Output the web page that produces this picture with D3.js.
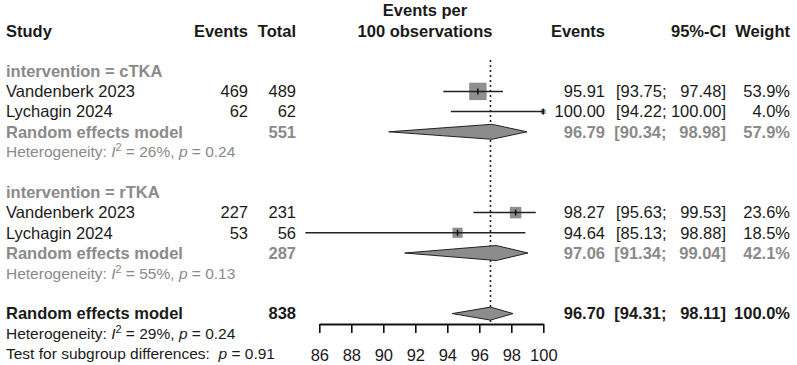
<!DOCTYPE html>
<html>
<head>
<meta charset="utf-8">
<script src="https://cdn.jsdelivr.net/npm/d3@7"></script>
<style>
  body { margin: 0; background: #fff; }
  svg { display: block; font-family: "Liberation Sans", Arial, sans-serif; }
</style>
</head>
<body>
<div id="chart"></div>
<script>
// Study-level data
const studyNames = ['Vandenberk 2023', 'Lychagin 2024', 'Vandenberk 2023', 'Lychagin 2024'];
const studyGroup = ['cTKA', 'cTKA', 'rTKA', 'rTKA'];
const studyEvents = [469, 62, 227, 53];
const studyTotal = [489, 62, 231, 56];
const studyEst = [95.91, 100.00, 98.27, 94.64];
const studyLower = [93.75, 94.22, 95.63, 85.13];
const studyUpper = [97.48, 100.00, 99.53, 98.88];
const studyWeight = [53.9, 4.0, 23.6, 18.5];

// Subgroup pooled results
const groupNames = ['cTKA', 'rTKA'];
const groupTotal = [551, 287];
const groupEst = [96.79, 97.06];
const groupLower = [90.34, 91.34];
const groupUpper = [98.98, 99.04];
const groupWeight = [57.9, 42.1];
const groupI2 = [26, 55];
const groupP = ['0.24', '0.13'];

// Overall pooled result
const overallTotal = 838;
const overallEst = 96.70;
const overallLower = 94.31;
const overallUpper = 98.11;
const overallWeight = 100.0;
const overallI2 = 29;
const overallP = '0.24';
const subgroupP = '0.91';

const axisTicks = [86, 88, 90, 92, 94, 96, 98, 100];

const W = 797, H = 365;
const FS = 16.5, FS_SMALL = 15.5;
const GRAY = '#8a8a8a';
const DARK = '#1a1a1a';
const FONT = '"Liberation Sans", Arial, sans-serif';

const svg = d3.select('#chart').append('svg')
    .attr('width', W)
    .attr('height', H);

const x = d3.scaleLinear()
    .domain([86, 100])
    .range([319.3, 543.3]);

const rowY = r => 30.8 + 20.2 * r;
const squareSide = w => 2.37 * Math.sqrt(w);
const fmt2 = d => d.toFixed(2);

// Column anchors
const col = { study: 6, events: 248, total: 296, est: 605, ciHi: 726, ciLo: 666.5, weight: 790, plotMid: 425 };

const addText = (txt, xPos, r, opts = {}) => svg.append('text')
    .attr('x', xPos)
    .attr('y', rowY(r))
    .attr('dy', '0.35em')
    .attr('text-anchor', opts.anchor || 'start')
    .style('font-family', FONT)
    .style('font-size', `${opts.size || FS}px`)
    .style('font-weight', opts.bold ? 'bold' : 'normal')
    .style('fill', opts.color || DARK)
    .text(txt);

// Headers
addText('Study', col.study, 0, { bold: true });
addText('Events', col.events, 0, { bold: true, anchor: 'end' });
addText('Total', col.total, 0, { bold: true, anchor: 'end' });
addText('Events per', col.plotMid, -1, { bold: true, anchor: 'middle' });
addText('100 observations', col.plotMid, 0, { bold: true, anchor: 'middle' });
addText('Events', col.est, 0, { bold: true, anchor: 'end' });
addText('95%-CI', col.ciHi, 0, { bold: true, anchor: 'end' });
addText('Weight', col.weight, 0, { bold: true, anchor: 'end' });

// Right-hand estimate columns
const addStats = (est, lo, hi, w, r, opts) => {
    addText(fmt2(est), col.est, r, { ...opts, anchor: 'end' });
    addText(`[${fmt2(lo)};`, col.ciLo, r, { ...opts, anchor: 'end' });
    addText(`${fmt2(hi)}]`, col.ciHi, r, { ...opts, anchor: 'end' });
    addText(`${w.toFixed(1)}%`, col.weight, r, { ...opts, anchor: 'end' });
};

// Heterogeneity line with italic I, superscript 2, italic p
const addHet = (prefix, i2, p, r, color) => {
    const t = svg.append('text')
        .attr('x', col.study)
        .attr('y', rowY(r))
        .attr('dy', '0.35em')
        .attr('xml:space', 'preserve')
        .style('font-family', FONT)
        .style('font-size', `${FS_SMALL}px`)
        .style('fill', color);
    t.append('tspan').text(prefix);
    if (i2 !== null) {
        t.append('tspan').style('font-style', 'italic').text('I');
        t.append('tspan').attr('dy', -6).style('font-size', '11px').text('2');
        t.append('tspan').attr('dy', 6).text(` = ${i2}%, `);
    }
    t.append('tspan').style('font-style', 'italic').text('p');
    t.append('tspan').text(` = ${p}`);
};

const diamond = (lo, est, hi, r, hh) => {
    const y = rowY(r);
    svg.append('path')
        .attr('d', d3.line()([[x(lo), y], [x(est), y - hh], [x(hi), y], [x(est), y + hh]]) + 'Z')
        .attr('fill', '#8c8c8c')
        .attr('stroke', '#222')
        .attr('stroke-width', 1);
};

// Reference line at the overall estimate (drawn first, sits behind marks)
svg.append('line')
    .attr('x1', x(overallEst)).attr('x2', x(overallEst))
    .attr('y1', 60).attr('y2', 324)
    .attr('stroke', '#222')
    .attr('stroke-width', 1.6)
    .attr('stroke-dasharray', '2,3');

groupNames.forEach((g, gi) => {
    const base = 2 + gi * 6;
    addText(`intervention = ${g}`, col.study, base, { bold: true, color: GRAY });

    const idx = studyGroup.map((s, i) => s === g ? i : -1).filter(i => i >= 0);
    idx.forEach((i, k) => {
        const r = base + 1 + k;
        const y = rowY(r);
        addText(studyNames[i], col.study, r);
        addText(studyEvents[i], col.events, r, { anchor: 'end' });
        addText(studyTotal[i], col.total, r, { anchor: 'end' });
        addStats(studyEst[i], studyLower[i], studyUpper[i], studyWeight[i], r, {});

        // square sized by weight
        const s = squareSide(studyWeight[i]);
        svg.append('rect')
            .attr('x', x(studyEst[i]) - s / 2)
            .attr('y', y - s / 2)
            .attr('width', s)
            .attr('height', s)
            .attr('fill', '#8f8f8f');

        // CI whisker
        svg.append('line')
            .attr('x1', x(studyLower[i])).attr('x2', x(studyUpper[i]))
            .attr('y1', y).attr('y2', y)
            .attr('stroke', '#222')
            .attr('stroke-width', 1.5);

        // estimate tick
        svg.append('line')
            .attr('x1', x(studyEst[i])).attr('x2', x(studyEst[i]))
            .attr('y1', y - 3).attr('y2', y + 3)
            .attr('stroke', '#111')
            .attr('stroke-width', 1.5);
    });

    const rRem = base + 3;
    addText('Random effects model', col.study, rRem, { bold: true, color: GRAY });
    addText(groupTotal[gi], col.total, rRem, { bold: true, color: GRAY, anchor: 'end' });
    addStats(groupEst[gi], groupLower[gi], groupUpper[gi], groupWeight[gi], rRem, { bold: true, color: GRAY });
    diamond(groupLower[gi], groupEst[gi], groupUpper[gi], rRem, 7.5);

    addHet('Heterogeneity: ', groupI2[gi], groupP[gi], base + 4, GRAY);
});

// Overall
addText('Random effects model', col.study, 14, { bold: true });
addText(overallTotal, col.total, 14, { bold: true, anchor: 'end' });
addStats(overallEst, overallLower, overallUpper, overallWeight, 14, { bold: true });
diamond(overallLower, overallEst, overallUpper, 14, 6.5);
addHet('Heterogeneity: ', overallI2, overallP, 15, DARK);
addHet('Test for subgroup differences:  ', null, subgroupP, 16, DARK);

// Axis
const axis = svg.append('g')
    .attr('transform', 'translate(0,324)')
    .call(d3.axisBottom(x).tickValues(axisTicks).tickSize(9).tickSizeOuter(0).tickPadding(16).tickFormat(d3.format('d')));
axis.select('.domain').attr('stroke', '#111').attr('stroke-width', 1.8);
axis.selectAll('.tick line').attr('stroke', '#111').attr('stroke-width', 1.6);
axis.selectAll('.tick text')
    .style('font-family', FONT)
    .style('font-size', `${FS}px`)
    .style('fill', DARK);
</script>
</body>
</html>
